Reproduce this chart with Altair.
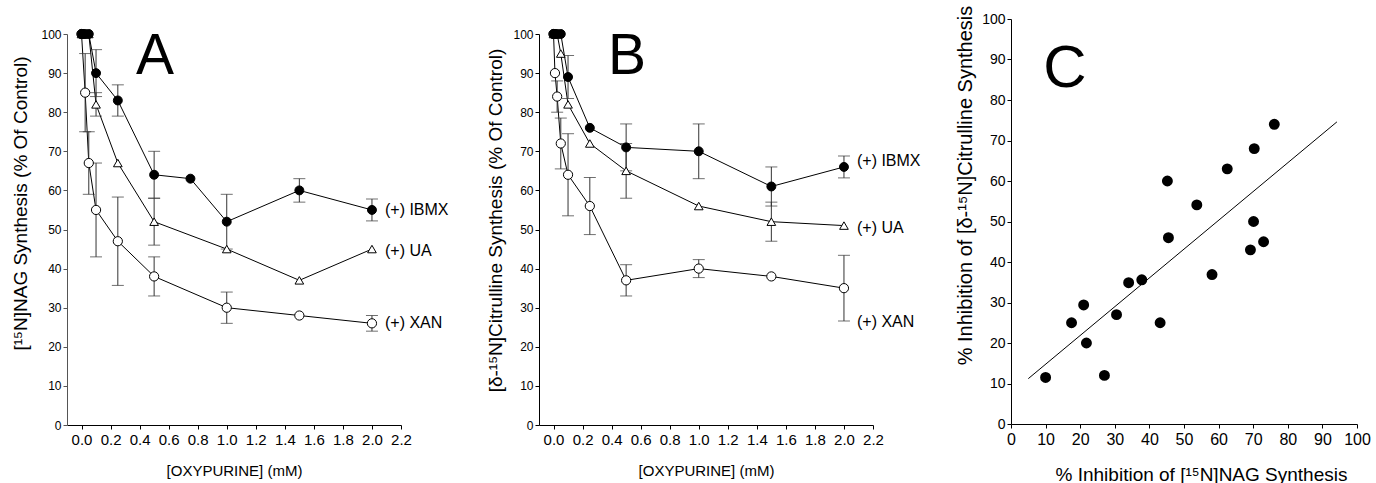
import altair as alt
import pandas as pd

FONT = "Liberation Sans"

SERIES = ["IBMX", "UA", "XAN"]
LABELS = ["(+) IBMX", "(+) UA", "(+) XAN"]
X_TICKS = [0.0, 0.2, 0.4, 0.6, 0.8, 1.0, 1.2, 1.4, 1.6, 1.8, 2.0, 2.2]
Y_TICKS = [0, 10, 20, 30, 40, 50, 60, 70, 80, 90, 100]

# ---------------- Panel A : [15N]NAG synthesis ----------------
a_ibmx_x = [0, 0.01, 0.025, 0.05, 0.1, 0.25, 0.5, 0.75, 1.0, 1.5, 2.0]
a_ibmx_y = [100, 100, 100, 100, 90, 83, 64, 63, 52, 60, 55]
a_ibmx_e = [0, 0, 0, 0, 6, 4, 6, 0, 7, 3, 2.8]

a_ua_x = [0, 0.01, 0.025, 0.05, 0.1, 0.25, 0.5, 1.0, 1.5, 2.0]
a_ua_y = [100, 100, 100, 100, 82, 67, 52, 45, 37, 45]
a_ua_e = [0, 0, 0, 0, 3, 0, 6, 0, 0, 0]

a_xan_x = [0, 0.025, 0.05, 0.1, 0.25, 0.5, 1.0, 1.5, 2.0]
a_xan_y = [100, 85, 67, 55, 47, 38, 30, 28, 26]
a_xan_e = [0, 10, 8, 12, 11.3, 5, 4, 0, 2]

a_label_y = [55, 44.5, 26]

# ---------------- Panel B : [d-15N]citrulline synthesis ----------------
b_ibmx_x = [0, 0.01, 0.025, 0.05, 0.1, 0.25, 0.5, 1.0, 1.5, 2.0]
b_ibmx_y = [100, 100, 100, 100, 89, 76, 71, 70, 61, 66]
b_ibmx_e = [0, 0, 0, 0, 5.5, 0, 6, 7, 5, 2.8]

b_ua_x = [0, 0.01, 0.025, 0.05, 0.1, 0.25, 0.5, 1.0, 1.5, 2.0]
b_ua_y = [100, 100, 100, 95, 82, 72, 65, 56, 52, 51]
b_ua_e = [0, 0, 0, 0, 0, 0, 7, 0, 5, 0]

b_xan_x = [0, 0.01, 0.025, 0.05, 0.1, 0.25, 0.5, 1.0, 1.5, 2.0]
b_xan_y = [100, 90, 84, 72, 64, 56, 37, 40, 38, 35]
b_xan_e = [0, 0, 4, 6.5, 10.5, 7.3, 4, 2.3, 0, 8.4]

b_label_y = [67.5, 50.5, 26.3]

# ---------------- Panel C : correlation ----------------
c_x = [10, 17.5, 21, 21.8, 27, 30.5, 34, 37.8, 43.1, 45.2, 45.5, 53.7, 58.1,
       62.5, 69.2, 70.1, 70.3, 73, 76.1]
c_y = [11.5, 25, 29.4, 20, 12, 27, 34.9, 35.6, 25, 60, 46, 54.1, 36.9,
       63, 43, 50, 68, 45, 74]
fit_x = [5, 94.2]
fit_y = [11.2, 74.6]
C_TICKS = [0, 10, 20, 30, 40, 50, 60, 70, 80, 90, 100]


def build_df(xs_list, ys_list, es_list):
    frames = []
    for name, xs, ys, es in zip(SERIES, xs_list, ys_list, es_list):
        frames.append(pd.DataFrame({"x": xs, "y": ys, "err": es, "series": name}))
    df = pd.concat(frames, ignore_index=True)
    df["lo"] = df["y"] - df["err"]
    df["hi"] = df["y"] + df["err"]
    return df


MARKERS = {
    "IBMX": dict(shape="circle", fill="black", size=80),
    "UA": dict(shape="triangle-up", fill="white", size=75),
    "XAN": dict(shape="circle", fill="white", size=85),
}
DRAW_ORDER = ["XAN", "UA", "IBMX"]


def curve_panel(df, label_y, letter, ytitle, ytitle_x, ytitle_y, yaxis_color):
    xscale = alt.Scale(domain=[-0.1, 2.2], nice=False, zero=False)
    yscale = alt.Scale(domain=[0, 100], range=[406, 15], nice=False, zero=False)
    xaxis = alt.Axis(
        values=X_TICKS, format=".1f", grid=False, tickSize=4, labelFontSize=15,
        labelPadding=3, labelFlush=False, labelOverlap=False,
        title="[OXYPURINE] (mM)", titleFontSize=15, titleFontWeight="normal",
        titleY=45, titleBaseline="middle", domainColor="black", tickColor="black",
        labelColor="black", titleColor="black", labelFont=FONT, titleFont=FONT,
    )
    yaxis = alt.Axis(
        values=Y_TICKS, grid=False, tickSize=4, labelFontSize=12, labelPadding=2,
        labelOverlap=False, labelFlush=False, title=ytitle, titleFontSize=19,
        titleFontWeight="normal", titleX=ytitle_x, titleY=ytitle_y, titleAngle=270,
        titleAlign="center", titleBaseline="middle", domainColor=yaxis_color,
        tickColor=yaxis_color, labelColor="black", titleColor="black",
        labelFont=FONT, titleFont=FONT,
    )
    base = alt.Chart(df)
    X = alt.X("x:Q", scale=xscale, axis=xaxis)
    Y = alt.Y("y:Q", scale=yscale, axis=yaxis)

    lines = base.mark_line(color="black", strokeWidth=1).encode(x=X, y=Y, detail="series:N")
    errs = base.transform_filter("datum.err > 0")
    rules = errs.mark_rule(color="#333", strokeWidth=1).encode(
        x=X, y=alt.Y("lo:Q", scale=yscale, axis=yaxis), y2="hi:Q")
    cap_lo = errs.mark_tick(orient="horizontal", size=12, thickness=1, color="#333").encode(
        x=X, y=alt.Y("lo:Q", scale=yscale, axis=yaxis))
    cap_hi = errs.mark_tick(orient="horizontal", size=12, thickness=1, color="#333").encode(
        x=X, y=alt.Y("hi:Q", scale=yscale, axis=yaxis))

    layers = [lines, rules, cap_lo, cap_hi]
    for name in DRAW_ORDER:
        m = MARKERS[name]
        layers.append(
            base.transform_filter(f"datum.series == '{name}'").mark_point(
                shape=m["shape"], filled=True, fill=m["fill"], stroke="black",
                strokeWidth=1, size=m["size"], opacity=1,
            ).encode(x=X, y=Y)
        )

    lab_df = pd.DataFrame({"x": [2.0] * 3, "y": label_y, "text": LABELS})
    labels = alt.Chart(lab_df).mark_text(
        align="left", baseline="middle", dx=13, fontSize=16, font=FONT, color="black"
    ).encode(x=X, y=Y, text="text:N")
    layers.append(labels)

    let = alt.Chart(pd.DataFrame({"t": [letter]})).mark_text(
        fontSize=57, font=FONT, align="center", baseline="alphabetic", color="black"
    ).encode(x=alt.value(88), y=alt.value(55), text="t:N")
    layers.append(let)

    return alt.layer(*layers).properties(width=334, height=406)


df_a = build_df([a_ibmx_x, a_ua_x, a_xan_x], [a_ibmx_y, a_ua_y, a_xan_y],
                [a_ibmx_e, a_ua_e, a_xan_e])
df_b = build_df([b_ibmx_x, b_ua_x, b_xan_x], [b_ibmx_y, b_ua_y, b_xan_y],
                [b_ibmx_e, b_ua_e, b_xan_e])

panel_a = curve_panel(df_a, a_label_y, "A", "[¹⁵N]NAG Synthesis (% Of Control)",
                      -47, 184, "#555")
panel_b = curve_panel(df_b, b_label_y, "B", "[δ-¹⁵N]Citrulline Synthesis (% Of Control)",
                      -44, 201, "black")

# Panel C
cx_scale = alt.Scale(domain=[0, 100], nice=False, zero=False)
cy_scale = alt.Scale(domain=[0, 100], nice=False, zero=False)
cx_axis = alt.Axis(
    values=C_TICKS, grid=False, tickSize=4, labelFontSize=16, labelPadding=3,
    labelFlush=False, labelOverlap=False, title="% Inhibition of [¹⁵N]NAG Synthesis",
    titleFontSize=19, titleFontWeight="normal", titleX=190, titleY=50,
    titleAlign="center", titleBaseline="middle",
    domainColor="black", tickColor="black", labelColor="black", titleColor="black",
    labelFont=FONT, titleFont=FONT,
)
cy_axis = alt.Axis(
    values=C_TICKS, grid=False, tickSize=4, labelFontSize=14, labelPadding=2,
    labelFlush=False, labelOverlap=False,
    title="% Inhibition of [δ-¹⁵N]Citrulline Synthesis", titleFontSize=20,
    titleFontWeight="normal", titleX=-46, titleY=166, titleAngle=270,
    titleAlign="center", titleBaseline="middle", domainColor="black",
    tickColor="black", labelColor="black", titleColor="black",
    labelFont=FONT, titleFont=FONT,
)
c_df = pd.DataFrame({"x": c_x, "y": c_y})
fit_df = pd.DataFrame({"x": fit_x, "y": fit_y})
CX = alt.X("x:Q", scale=cx_scale, axis=cx_axis)
CY = alt.Y("y:Q", scale=cy_scale, axis=cy_axis)
c_fit = alt.Chart(fit_df).mark_line(color="black", strokeWidth=1).encode(x=CX, y=CY)
c_pts = alt.Chart(c_df).mark_point(
    shape="circle", filled=True, fill="black", stroke="black", size=80, opacity=1
).encode(x=CX, y=CY)
c_let = alt.Chart(pd.DataFrame({"t": ["C"]})).mark_text(
    fontSize=60, font=FONT, align="center", baseline="alphabetic", color="black"
).encode(x=alt.value(54), y=alt.value(68), text="t:N")
panel_c = alt.layer(c_fit, c_pts, c_let).properties(width=346, height=405)

chart = alt.hconcat(panel_a, panel_b, panel_c, spacing=138, bounds="flush").properties(
    padding={"left": 10, "top": 5, "right": 0, "bottom": 0}
).configure(font=FONT).configure_view(strokeWidth=0)

chart.save("out.html", embed_options={"renderer": "svg", "actions": False})
